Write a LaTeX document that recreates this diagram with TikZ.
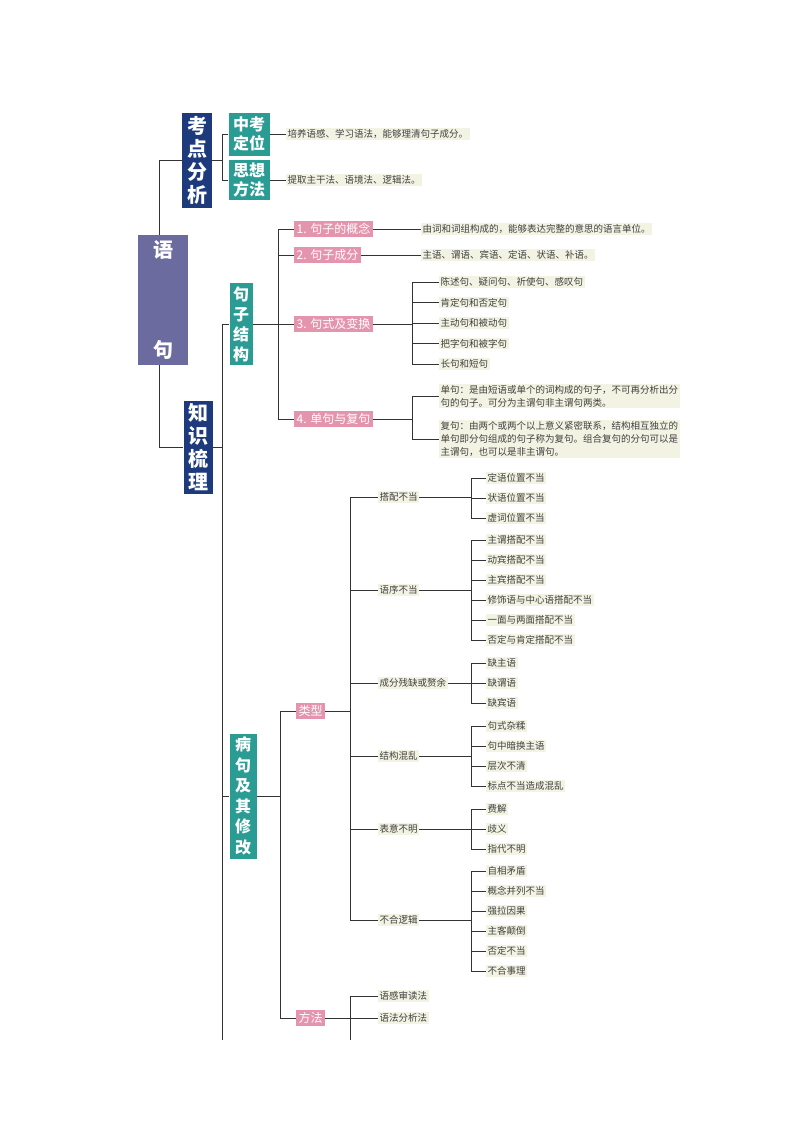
\documentclass[tikz,border=0pt]{standalone}
\usepackage{fontspec}
\setmainfont{Noto Sans CJK SC}
\definecolor{cpink}{HTML}{E594AE}
\definecolor{cteal}{HTML}{2A9C94}
\definecolor{cnavy}{HTML}{1C3A7C}
\definecolor{croot}{HTML}{6B6B9F}
\definecolor{cleaf}{HTML}{F3F3E3}
\begin{document}
\begin{tikzpicture}[x=1pt,y=-1pt,
  line/.style={draw=black!80,line width=0.8pt},
  leaf/.style={anchor=west,fill=cleaf,text=black!75,font=\fontsize{9.5}{13}\selectfont,inner sep=1.5pt,align=left},
  pink/.style={fill=cpink,text=white,font=\fontsize{12}{14}\selectfont,inner sep=2.5pt,anchor=west},
  teal/.style={fill=cteal,text=white,font=\fontsize{16}{19}\selectfont\bfseries,align=center,inner sep=1pt},
  navy/.style={fill=cnavy,text=white,font=\fontsize{20}{23}\selectfont\bfseries,align=center,inner sep=1pt},
]
\useasboundingbox (0,0) rectangle (800,1132);
\fill[white] (0,0) rectangle (800,1132);
% root
\node[fill=croot,minimum width=50pt,minimum height=130pt] (root) at (163,300) {};
\node[text=white,font=\fontsize{20}{24}\selectfont\bfseries] (ry) at (163,250) {语};
\node[text=white,font=\fontsize{20}{24}\selectfont\bfseries] (rj) at (163,350) {句};
\node[navy,minimum width=30pt,minimum height=95pt] (kd) at (197,160) {考\\点\\分\\析};
\node[navy,minimum width=29pt,minimum height=93pt] (zs) at (198,447) {知\\识\\梳\\理};
\draw[line] (root.north -| 159,0) |- (kd.west);
\draw[line] (root.south -| 159,0) |- (zs.west);
% kaodian
\node[teal,minimum width=41pt,minimum height=43pt] (zk) at (249,134) {中考\\定位};
\node[teal,minimum width=41pt,minimum height=40pt] (sx) at (249,180) {思想\\方法};
\coordinate (b0) at (222,0);
\draw[line] (kd.east) -- (kd.east -| b0) |- (zk.west);
\draw[line] (kd.east -| b0) |- (sx.west);
\node[leaf] (t1) at (286,134) {培养语感、学习语法，能够理清句子成分。};
\node[leaf] (t2) at (286,180) {提取主干法、语境法、逻辑法。};
\draw[line] (zk.east) -- (t1.west);
\draw[line] (sx.east) -- (t2.west);
% zhishi
\node[teal,minimum width=23pt,minimum height=82pt,font=\fontsize{16}{20}\selectfont\bfseries] (jz) at (241,324) {句\\子\\结\\构};
\node[teal,minimum width=27pt,minimum height=125pt,font=\fontsize{16}{20.5}\selectfont\bfseries] (bj) at (243,796) {病\\句\\及\\其\\修\\改};
\coordinate (b1) at (222,0);
\coordinate (bend) at (222,1040);
\draw[line] (zs.east) -- (zs.east -| b1);
\draw[line] (222,324) |- (jz.west);
\draw[line] (222,324) -- (bend);
\draw[line] (222,796) -- (bj.west);
% juzi jiegou
\node[pink] (p1) at (294,229) {1. 句子的概念};
\node[pink] (p2) at (294,255) {2. 句子成分};
\node[pink] (p3) at (294,324) {3. 句式及变换};
\node[pink] (p4) at (294,419) {4. 单句与复句};
\coordinate (b2) at (278,0);
\draw[line] (jz.east) -- (jz.east -| b2);
\foreach \n in {p1,p2,p3,p4} \draw[line] (b2 |- p1.west) |- (\n.west);
\node[leaf] (q1) at (421,229) {由词和词组构成的，能够表达完整的意思的语言单位。};
\node[leaf] (q2) at (421,255) {主语、谓语、宾语、定语、状语、补语。};
\draw[line] (p1.east) -- (q1.west);
\draw[line] (p2.east) -- (q2.west);
\coordinate (b3) at (412,0);
\draw[line] (p3.east) -- (p3.east -| b3);
\foreach \t [count=\i, evaluate=\i as \yy using 282+20.5*(\i-1)] in {陈述句、疑问句、祈使句、感叹句,肯定句和否定句,主动句和被动句,把字句和被字句,长句和短句}{
  \node[leaf] (s\i) at (439,\yy) {\t};
  \draw[line] (p3.east -| b3) |- (s\i.west);
}
\node[leaf] (d1) at (439,396) {单句：是由短语或单个的词构成的句子，不可再分析出分\\句的句子。可分为主谓句非主谓句两类。};
\node[leaf] (d2) at (439,439) {复句：由两个或两个以上意义紧密联系，结构相互独立的\\单句即分句组成的句子称为复句。组合复句的分句可以是\\主谓句，也可以是非主谓句。};
\draw[line] (p4.east) -- (p4.east -| b3);
\draw[line] (p4.east -| b3) |- (d1.west);
\draw[line] (p4.east -| b3) |- (d2.west);
% bingju
\node[pink] (lx) at (296,711) {类型};
\node[pink] (ff) at (296,1018) {方法};
\coordinate (b4) at (280,0);
\draw[line] (bj.east) -- (bj.east -| b4);
\draw[line] (b4 |- lx.west) -- (lx.west);
\draw[line] (b4 |- lx.west) |- (ff.west);
\coordinate (b5) at (350,0);
\draw[line] (lx.east) -- (lx.east -| b5);
\foreach \t/\yy/\nm in {搭配不当/497/c1,语序不当/590/c2,成分残缺或赘余/683/c3,结构混乱/756/c4,表意不明/829/c5,不合逻辑/920/c6}{
  \node[leaf] (\nm) at (378,\yy) {\t};
  \draw[line] (b5 |- lx.east) |- (\nm.west);
}
\coordinate (b6) at (471,0);
\newcommand\leafgroup[3]{%
  \draw[line] (#1.east) -- (#1.east -| b6);
  \foreach \t [count=\i, evaluate=\i as \yy using #2+20*(\i-1)] in {#3}{
    \node[leaf] (#1-\i) at (486,\yy) {\t};
    \draw[line] (#1.east -| b6) |- (#1-\i.west);
  }}
\leafgroup{c1}{478}{定语位置不当,状语位置不当,虚词位置不当}
\leafgroup{c2}{540}{主谓搭配不当,动宾搭配不当,主宾搭配不当,修饰语与中心语搭配不当,一面与两面搭配不当,否定与肯定搭配不当}
\leafgroup{c3}{663}{缺主语,缺谓语,缺宾语}
\leafgroup{c4}{726}{句式杂糅,句中暗换主语,层次不清,标点不当造成混乱}
\leafgroup{c5}{809}{费解,歧义,指代不明}
\leafgroup{c6}{871}{自相矛盾,概念并列不当,强拉因果,主客颠倒,否定不当,不合事理}
% fangfa
\node[leaf] (m1) at (378,996) {语感审读法};
\node[leaf] (m2) at (378,1018) {语法分析法};
\coordinate (mend) at (350,1040);
\draw[line] (ff.east) -- (m2.west);
\draw[line] (mend) |- (m1.west);
\end{tikzpicture}
\end{document}
